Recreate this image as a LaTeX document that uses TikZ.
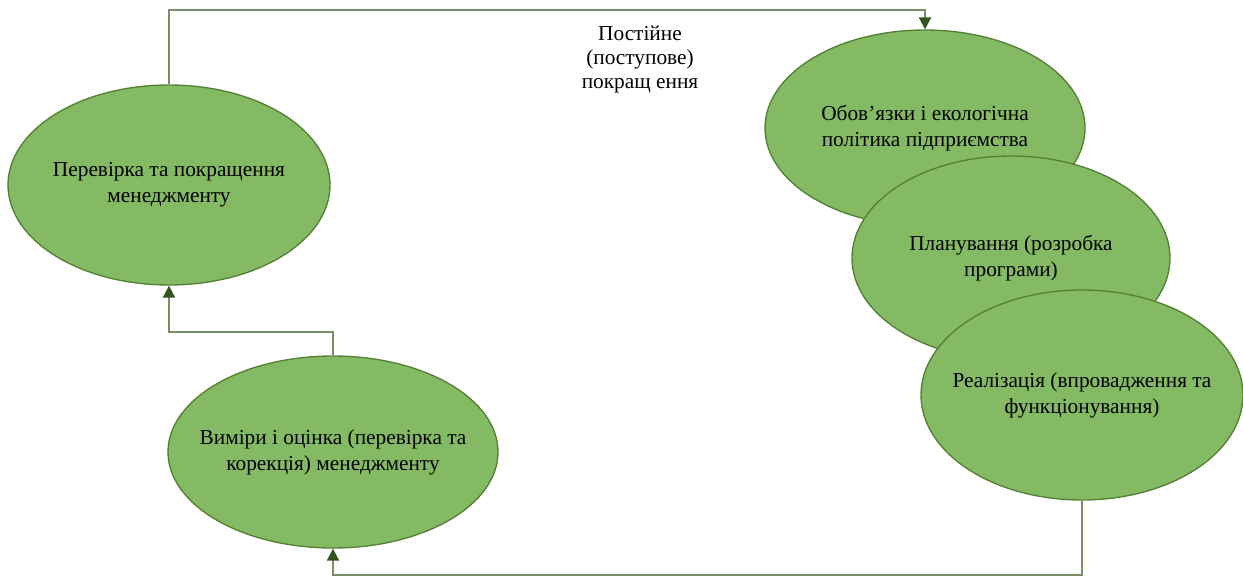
\documentclass[tikz,border=0pt]{standalone}
\usepackage{fontspec}
\setmainfont{Liberation Serif}
\usetikzlibrary{shapes.geometric,arrows.meta}

\definecolor{stagefill}{RGB}{133,186,101}
\definecolor{stageline}{RGB}{84,128,52}
\definecolor{flowline}{RGB}{122,140,104}
\definecolor{flowtip}{RGB}{52,86,30}

\tikzset{every picture/.style={line width=0.75pt}}
\tikzset{
  stage/.style={ellipse,draw=stageline,fill=stagefill,line width=1pt,
    inner xsep=-40pt,inner ysep=0pt,
    align=center,font=\fontsize{16}{19.5}\selectfont},
  flow/.style={draw=flowline,line width=1.5pt,
    -{Triangle[length=9pt,width=9pt,fill=flowtip,color=flowtip]}},
}

\begin{document}
\begin{tikzpicture}[x=0.75pt,y=0.75pt,yscale=-1,xscale=1]
\useasboundingbox[fill=white] (0,0) rectangle (1243,578);

%Ellipses
\node[stage,minimum width=241.5pt,minimum height=150pt] (check) at (169,185) {Перевірка та покращення\\менеджменту};
\node[stage,minimum width=247.5pt,minimum height=144pt] (measure) at (333,452) {Виміри і оцінка (перевірка та\\корекція) менеджменту};
\node[stage,minimum width=240pt,minimum height=147pt] (policy) at (925,128) {Обов’язки і екологічна\\політика підприємства};
\node[stage,minimum width=238.5pt,minimum height=153pt] (plan) at (1011,258) {Планування (розробка\\програми)};
\node[stage,minimum width=241.5pt,minimum height=157.5pt] (impl) at (1082,395) {Реалізація (впровадження та\\функціонування)};

%Connectors
\draw[flow] (check.north) -- ++(0,-74) -| (policy.north);
\draw[flow] (impl.south) -- ++(0,74) -| (measure.south);
\draw[flow] (measure.north) -- ++(0,-23) -| (check.south);

% Text Node
\node[align=center,font=\fontsize{16}{18}\selectfont] (cycle) at (640,59) {Постійне\\(поступове)\\покращ ення};

\end{tikzpicture}
\end{document}
